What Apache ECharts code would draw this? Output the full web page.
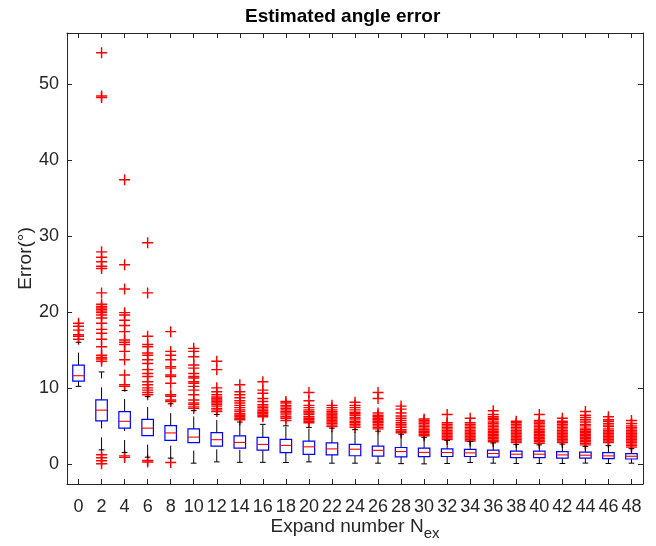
<!DOCTYPE html>
<html><head><meta charset="utf-8">
<script src="https://cdn.jsdelivr.net/npm/echarts@6/dist/echarts.min.js"></script>
<style>html,body{margin:0;padding:0;background:#fff}#c{width:656px;height:546px}</style>
</head><body><div id="c"></div>
<script>
const categories = ['0','2','4','6','8','10','12','14','16','18','20','22','24','26','28','30','32','34','36','38','40','42','44','46','48'];
const whiskerLow = [10.2, 1.84, 1.49, 0.88, 0.75, 0.09, 0.26, 0.2, 0.2, 0.18, 0.26, 0.09, 0.09, 0.09, 0.03, 0.0, 0.05, 0.18, 0.09, 0.05, 0.05, 0.05, 0.1, 0.05, 0.09];
const quart1 = [10.9, 5.66, 4.7, 3.72, 3.1, 2.8, 2.34, 2.06, 1.8, 1.49, 1.25, 1.18, 1.07, 1.02, 0.92, 0.95, 0.97, 0.97, 0.88, 0.83, 0.83, 0.75, 0.75, 0.7, 0.64];
const medians = [11.6, 7.07, 5.6, 4.7, 4.07, 3.52, 3.18, 2.82, 2.56, 2.43, 2.24, 1.97, 1.93, 1.78, 1.62, 1.51, 1.49, 1.45, 1.36, 1.27, 1.27, 1.18, 1.14, 1.05, 1.0];
const quart3 = [13.0, 8.42, 6.88, 5.85, 5.04, 4.6, 4.12, 3.68, 3.48, 3.22, 2.98, 2.75, 2.57, 2.33, 2.15, 2.06, 1.97, 1.9, 1.8, 1.68, 1.68, 1.6, 1.55, 1.49, 1.34];
const whiskerHigh = [16.0, 12.1, 9.65, 8.85, 7.9, 7.0, 6.5, 5.5, 5.2, 5.0, 4.8, 4.7, 4.5, 4.3, 3.9, 3.5, 3.1, 2.95, 2.75, 2.55, 2.5, 2.6, 2.3, 2.4, 2.0];
const outlierValues = [
  [18.5, 18.1, 17.6, 17.0, 16.8, 16.4],
  [54.1, 48.4, 48.2, 27.9, 27.2, 26.6, 26.0, 25.7, 22.5, 21.0, 20.7, 20.5, 20.3, 20.1, 19.9, 19.6, 19.2, 18.5, 17.7, 17.2, 16.4, 15.4, 14.3, 14.0, 13.8, 13.5, 1.2, 0.8, 0.4, 0.02],
  [37.4, 26.2, 23.0, 19.9, 19.6, 18.9, 18.2, 17.4, 16.3, 16.0, 15.7, 14.8, 13.7, 11.7, 10.4, 10.2, 1.05, 0.85],
  [29.1, 22.5, 16.8, 15.7, 15.4, 14.6, 14.3, 13.7, 13.2, 12.4, 11.9, 11.5, 10.8, 10.4, 10.0, 9.7, 9.4, 9.1, 0.45, 0.25],
  [17.4, 14.8, 14.3, 13.7, 12.8, 12.6, 11.7, 11.5, 10.6, 9.1, 8.9, 8.4, 8.2, 0.17],
  [15.2, 14.8, 14.1, 13.0, 12.6, 11.9, 11.5, 11.3, 10.8, 10.6, 10.2, 9.7, 9.1, 8.4, 8.0, 7.8, 7.5, 7.3],
  [13.5, 12.4, 10.0, 9.5, 9.1, 8.8, 8.6, 8.4, 8.2, 8.0, 7.8, 7.6, 7.3, 7.1, 6.9],
  [10.4, 9.5, 9.1, 8.7, 8.3, 8.0, 7.7, 7.4, 7.1, 6.9, 6.6, 6.4, 6.2, 6.0, 5.8],
  [10.8, 9.7, 9.3, 8.6, 8.2, 7.8, 7.6, 7.4, 7.2, 7.0, 6.8, 6.6, 6.4, 6.2],
  [8.2, 8.0, 7.7, 7.5, 7.3, 7.1, 6.9, 6.7, 6.45, 6.2, 6.0, 5.7],
  [9.4, 8.3, 7.7, 7.4, 7.1, 6.9, 6.7, 6.5, 6.2, 6.0, 5.8, 5.6, 5.4],
  [7.7, 7.4, 7.1, 6.9, 6.7, 6.5, 6.3, 6.1, 5.9, 5.7, 5.5, 5.3, 5.1, 4.9],
  [8.1, 7.7, 7.4, 7.1, 6.8, 6.6, 6.4, 6.1, 5.9, 5.6, 5.4, 5.2, 5.0, 4.8],
  [9.4, 8.6, 6.7, 6.4, 6.2, 6.0, 5.8, 5.6, 5.4, 5.2, 5.0, 4.8, 4.6],
  [7.6, 7.2, 6.7, 6.3, 6.0, 5.7, 5.4, 5.2, 5.0, 4.8, 4.5, 4.3, 4.1],
  [5.9, 5.7, 5.5, 5.3, 5.1, 4.9, 4.7, 4.5, 4.3, 4.1, 3.9, 3.7],
  [6.5, 5.4, 5.2, 5.0, 4.8, 4.6, 4.4, 4.2, 4.0, 3.8, 3.6, 3.4, 3.2],
  [6.0, 5.4, 5.2, 5.0, 4.8, 4.6, 4.4, 4.2, 4.0, 3.8, 3.6, 3.4, 3.2, 3.0],
  [7.0, 6.5, 6.2, 6.0, 5.8, 5.5, 5.3, 5.1, 4.9, 4.7, 4.5, 4.3, 4.1, 3.9, 3.7, 3.5, 3.3, 3.1, 2.9],
  [5.6, 5.4, 5.2, 5.0, 4.8, 4.6, 4.4, 4.2, 4.0, 3.8, 3.6, 3.4, 3.2, 3.0, 2.8],
  [6.5, 5.7, 5.5, 5.3, 5.1, 4.9, 4.7, 4.5, 4.3, 4.1, 3.9, 3.7, 3.5, 3.3, 3.1, 2.9, 2.7],
  [6.0, 5.6, 5.4, 5.2, 5.0, 4.8, 4.6, 4.4, 4.2, 4.0, 3.8, 3.6, 3.4, 3.2, 3.0, 2.8],
  [6.9, 6.4, 6.1, 5.8, 5.5, 5.2, 5.0, 4.7, 4.5, 4.3, 4.1, 3.9, 3.7, 3.5, 3.3, 3.1, 2.9, 2.7, 2.5],
  [6.2, 5.8, 5.6, 5.3, 5.1, 4.9, 4.6, 4.4, 4.2, 4.0, 3.8, 3.6, 3.4, 3.2, 3.0, 2.8],
  [5.7, 5.3, 5.0, 4.8, 4.6, 4.4, 4.2, 4.0, 3.8, 3.6, 3.4, 3.2, 3.0, 2.8, 2.6, 2.4, 2.2]
];
const yTickStep = 10;

const boxData = categories.map((c, i) => [i, whiskerLow[i], quart1[i], medians[i], quart3[i], whiskerHigh[i]]);
const outlierData = [];
outlierValues.forEach((arr, i) => arr.forEach(v => outlierData.push([i, v])));

const FONT = 'Liberation Sans';
const AX = '#262626';
const chart = echarts.init(document.getElementById('c'), null, {renderer: 'canvas'});

function renderBox(params, api) {
  const i = api.value(0);
  const band = api.size([1, 0])[0];
  const x = api.coord([i, 0])[0];
  const bw = band * 0.5, cw = bw * 0.5;
  const y = v => api.coord([i, v])[1];
  const yLo = y(api.value(1)), yQ1 = y(api.value(2)), yMed = y(api.value(3)), yQ3 = y(api.value(4)), yHi = y(api.value(5));
  const wStyle = {stroke: '#000', lineWidth: 1, lineDash: [12.5, 9]};
  const cStyle = {stroke: '#000', lineWidth: 1};
  return {
    type: 'group',
    children: [
      {type: 'line', shape: {x1: x, y1: yLo, x2: x, y2: yQ1}, style: wStyle},
      {type: 'line', shape: {x1: x, y1: yQ3, x2: x, y2: yHi}, style: wStyle},
      {type: 'line', shape: {x1: x - cw / 2, y1: yLo, x2: x + cw / 2, y2: yLo}, style: cStyle},
      {type: 'line', shape: {x1: x - cw / 2, y1: yHi, x2: x + cw / 2, y2: yHi}, style: cStyle},
      {type: 'rect', shape: {x: x - bw / 2, y: yQ3, width: bw, height: yQ1 - yQ3}, style: {fill: 'none', stroke: '#0000ff', lineWidth: 1.2}},
      {type: 'line', shape: {x1: x - bw / 2, y1: yMed, x2: x + bw / 2, y2: yMed}, style: {stroke: '#ff0000', lineWidth: 1.1}}
    ]
  };
}

const xAxisBase = {
  type: 'category', data: categories, boundaryGap: true,
  axisLine: {show: true, onZero: false, lineStyle: {color: AX, width: 1}},
  axisTick: {show: true, inside: true, alignWithLabel: true, length: 5, lineStyle: {color: AX}},
  splitLine: {show: false}
};
const yAxisBase = {
  type: 'value', min: -2.65, max: 56.7, splitNumber: 6,
  axisLine: {show: true, onZero: false, lineStyle: {color: AX, width: 1}},
  axisTick: {show: true, inside: true, length: 5, lineStyle: {color: AX}},
  splitLine: {show: false}
};

chart.setOption({
  animation: false,
  backgroundColor: '#fff',
  grid: {left: 67, right: 13, top: 33, bottom: 62, containLabel: false, outerBoundsMode: 'none'},
  graphic: [{
    type: 'text', left: 355 - 110, top: 7,
    style: {text: 'Estimated angle error', font: 'bold 19px "Liberation Sans"', fill: '#000', width: 220, align: 'center'}
  }],
  xAxis: [
    Object.assign({}, xAxisBase, {
      position: 'bottom',
      axisLabel: {interval: 0, color: AX, fontSize: 18, fontFamily: FONT, margin: 14},
      name: 'Expand number N{sub|ex}', nameLocation: 'middle', nameGap: 28, nameMoveOverlap: false,
      nameTextStyle: {color: AX, fontSize: 19, fontFamily: FONT, verticalAlign: 'top',
        rich: {sub: {fontSize: 15, fontFamily: FONT, color: AX, padding: [14, 0, 0, 0], verticalAlign: 'top'}}}
    }),
    Object.assign({}, xAxisBase, {position: 'top', axisLabel: {show: false}})
  ],
  yAxis: [
    Object.assign({}, yAxisBase, {
      position: 'left',
      axisLabel: {color: AX, fontSize: 18, fontFamily: FONT, margin: 8, showMinLabel: false, showMaxLabel: false,
        formatter: v => (Math.abs(v / yTickStep - Math.round(v / yTickStep)) < 1e-6 ? String(Math.round(v)) : '')},
      name: 'Error(°)', nameLocation: 'middle', nameGap: 32, nameMoveOverlap: false,
      nameTextStyle: {color: AX, fontSize: 19, fontFamily: FONT}
    }),
    Object.assign({}, yAxisBase, {position: 'right', axisLabel: {show: false}})
  ],
  series: [
    {
      type: 'custom', xAxisIndex: 0, yAxisIndex: 0,
      renderItem: renderBox,
      encode: {x: 0, y: [1, 2, 3, 4, 5]},
      data: boxData, z: 3
    },
    {
      type: 'scatter', xAxisIndex: 0, yAxisIndex: 0,
      symbol: 'path://M4.35,0H5.65V4.35H10V5.65H5.65V10H4.35V5.65H0V4.35H4.35Z',
      symbolSize: 11,
      itemStyle: {color: '#ff0000', opacity: 1},
      data: outlierData, z: 2
    }
  ]
});
</script>
</body></html>
